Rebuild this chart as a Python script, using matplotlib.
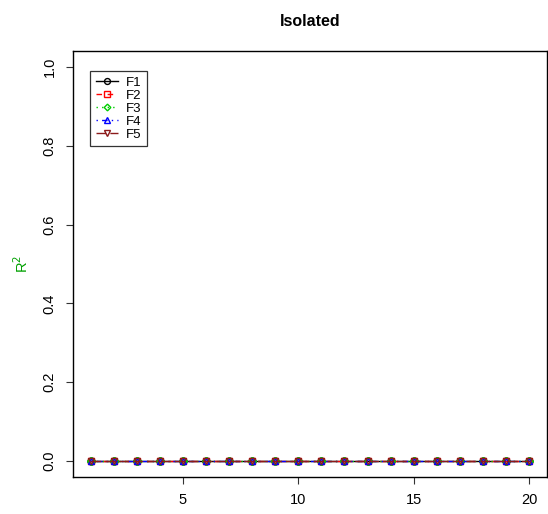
import matplotlib
matplotlib.use("Agg")
import matplotlib.pyplot as plt

plt.rcParams['font.family'] = ['Liberation Sans', 'DejaVu Sans']

x = list(range(1, 21))
series_names = ["F1", "F2", "F3", "F4", "F5"]
series_values = {
    "F1": [0.0] * 20,
    "F2": [0.0] * 20,
    "F3": [0.0] * 20,
    "F4": [0.0] * 20,
    "F5": [0.0] * 20,
}
colors = ["black", "#FF0000", "#00CD00", "#0000FF", "#8B1A1A"]
markers = ["o", "s", "D", "^", "v"]
linestyles = ["-", (0, (4, 4)), (0, (1, 3)), (0, (1, 3, 4, 3)), (0, (7, 3))]
xticks = [5, 10, 15, 20]
yticks = [0.0, 0.2, 0.4, 0.6, 0.8, 1.0]

fig = plt.figure(figsize=(5.48, 5.14), dpi=100)
ax = fig.add_axes([0.1336, 0.0724, 0.8637, 0.828])

for name, c, m, ls in zip(series_names, colors, markers, linestyles):
    ax.plot(x, series_values[name], color=c, marker=m, linestyle=ls,
            markerfacecolor='none', markeredgecolor=c, markersize=5 if m != "D" else 4,
            markeredgewidth=1.0, linewidth=1.0, label=name)

ax.set_xlim(0.24, 20.76)
ax.set_ylim(-0.04, 1.04)
ax.set_xticks(xticks)
ax.set_xticklabels([str(t) for t in xticks], fontsize=10.5)
ax.set_yticks(yticks)
ax.set_yticklabels([f"{t:.1f}" for t in yticks], fontsize=10.5, rotation=90, va='center')
ax.tick_params(direction='out', length=5, width=0.8, color='#333333', pad=7)
for s in ax.spines.values():
    s.set_linewidth(1.0)
    s.set_color('black')

ax.set_title("Isolated", fontsize=11.5, fontweight='bold', pad=18)
ax.set_ylabel("R$^2$", color="#00A000", fontsize=10.5, labelpad=8)

leg = ax.legend(loc='upper left', bbox_to_anchor=(0.0365, 0.953), frameon=True,
                fancybox=False, edgecolor='black', fontsize=9.5, handlelength=1.65,
                handletextpad=0.6, borderpad=0.42, labelspacing=0.05, borderaxespad=0,
                markerscale=0.85)
leg.get_frame().set_linewidth(0.9)

fig.savefig("out.png", dpi=100)
